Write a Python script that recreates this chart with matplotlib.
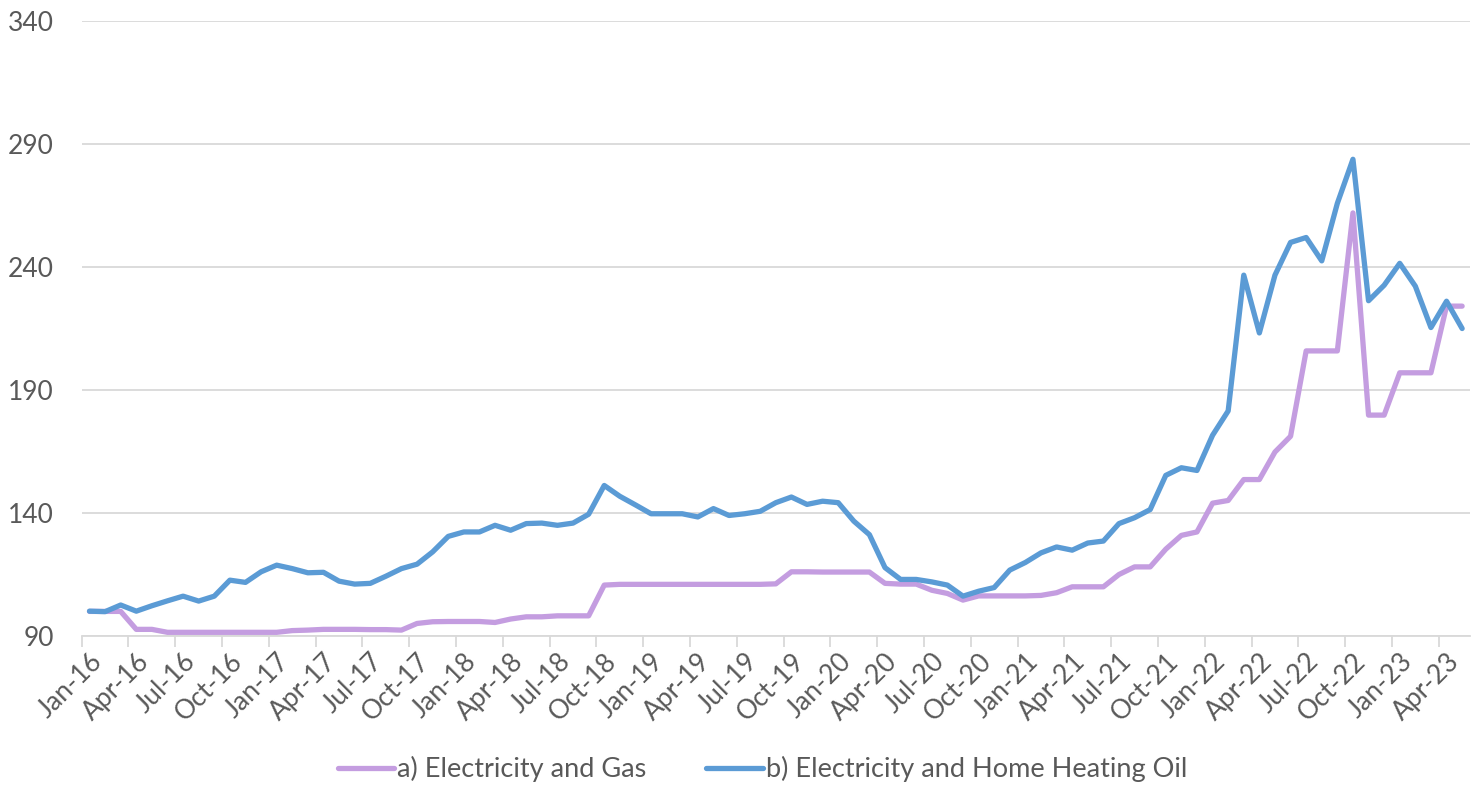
import numpy as np
import pandas as pd
import matplotlib
matplotlib.use("Agg")
import matplotlib.pyplot as plt
from matplotlib.ticker import FixedLocator

# monthly index, Jan-16 .. May-23
months = pd.date_range("2016-01-01", periods=89, freq="MS")
labels = [d.strftime("%b-%y") for d in months]

# a) Electricity and Gas
gas = [100, 100, 100, 92.7, 92.7, 91.5, 91.5, 91.5, 91.5, 91.5,
       91.5, 91.5, 91.5, 92.2, 92.4, 92.7, 92.7, 92.7, 92.6, 92.6,
       92.4, 95.1, 95.8, 95.9, 95.9, 95.9, 95.5, 96.9, 97.8, 97.8,
       98.2, 98.2, 98.2, 110.7, 111.0, 111.0, 111.0, 111.0, 111.0, 111.0,
       111.0, 111.0, 111.0, 111.0, 111.2, 116.1, 116.1, 116.0, 116.0, 116.0,
       116.0, 111.4, 111.1, 111.1, 108.6, 107.3, 104.6, 106.3, 106.3, 106.3,
       106.3, 106.5, 107.6, 110.0, 110.0, 110.0, 115.0, 118.1, 118.1, 125.3,
       130.9, 132.3, 144.0, 145.1, 153.6, 153.6, 164.8, 171.2, 205.9, 205.9,
       205.9, 262.0, 179.8, 179.8, 197.0, 197.0, 197.0, 224.1, 224.1]

# b) Electricity and Home Heating Oil
oil = [100.1, 99.9, 102.6, 100.1, 102.3, 104.3, 106.2, 104.2, 106.2, 112.7,
       111.8, 116.1, 118.8, 117.4, 115.7, 115.9, 112.3, 111.1, 111.4, 114.3,
       117.4, 119.2, 124.2, 130.5, 132.3, 132.3, 135.0, 133.0, 135.7, 135.9,
       135.0, 135.9, 139.5, 151.2, 146.8, 143.3, 139.7, 139.7, 139.7, 138.4,
       141.8, 139.0, 139.7, 140.7, 144.2, 146.5, 143.5, 144.8, 144.2, 136.7,
       131.2, 117.8, 113.0, 113.0, 112.0, 110.7, 106.2, 108.2, 109.7, 116.8,
       119.9, 123.8, 126.2, 124.9, 127.8, 128.6, 135.7, 138.1, 141.4, 155.3,
       158.4, 157.3, 171.6, 181.5, 236.7, 213.2, 236.7, 250.0, 252.0, 242.5,
       265.9, 283.8, 226.3, 232.6, 241.5, 232.2, 215.4, 226.1, 215.0]

series_names = ["a) Electricity and Gas", "b) Electricity and Home Heating Oil"]
colors = ["#C49DE0", "#5B9BD5"]

plt.rcParams["font.family"] = ["Lato", "DejaVu Sans"]
txt = "#595959"
grid = "#D9D9D9"

fig = plt.figure(figsize=(14.8, 7.85), dpi=100)
ax = fig.add_axes([0.0552, 0.1898, 0.9380, 0.7834])

x = np.arange(len(labels))
for vals, name, c in zip([gas, oil], series_names, colors):
    ax.plot(x, vals, color=c, lw=3.8, label=name,
            solid_joinstyle="round", solid_capstyle="round")

ax.set_xlim(-0.5, len(labels) - 0.5)
ax.set_ylim(90, 340)
ax.set_yticks(np.arange(90, 341, 50))
ax.yaxis.grid(True, color=grid, lw=1.3)
ax.set_axisbelow(True)

# labels every 3 months, tick marks on category boundaries
ax.xaxis.set_major_locator(FixedLocator(x[::3]))
ax.set_xticklabels(labels[::3], rotation=45, ha="right", va="top",
                   rotation_mode="anchor")
ax.xaxis.set_minor_locator(FixedLocator(np.arange(-0.5, len(labels), 3)))
ax.tick_params(axis="x", which="major", length=0, pad=9, labelsize=19, labelcolor=txt)
ax.tick_params(axis="x", which="minor", length=8, width=1.3, color=grid)
ax.tick_params(axis="y", length=0, pad=20, labelsize=19, labelcolor=txt)

for s in ["left", "right", "top"]:
    ax.spines[s].set_visible(False)
ax.spines["bottom"].set_color(grid)
ax.spines["bottom"].set_linewidth(1.3)

leg = fig.legend(loc="center", bbox_to_anchor=(0.515, 0.02), ncol=2, frameon=False,
                 fontsize=19.5, handlelength=2.1, handletextpad=0.1, columnspacing=2.2)
for t in leg.get_texts():
    t.set_color(txt)

fig.savefig("out.png", dpi=100)
